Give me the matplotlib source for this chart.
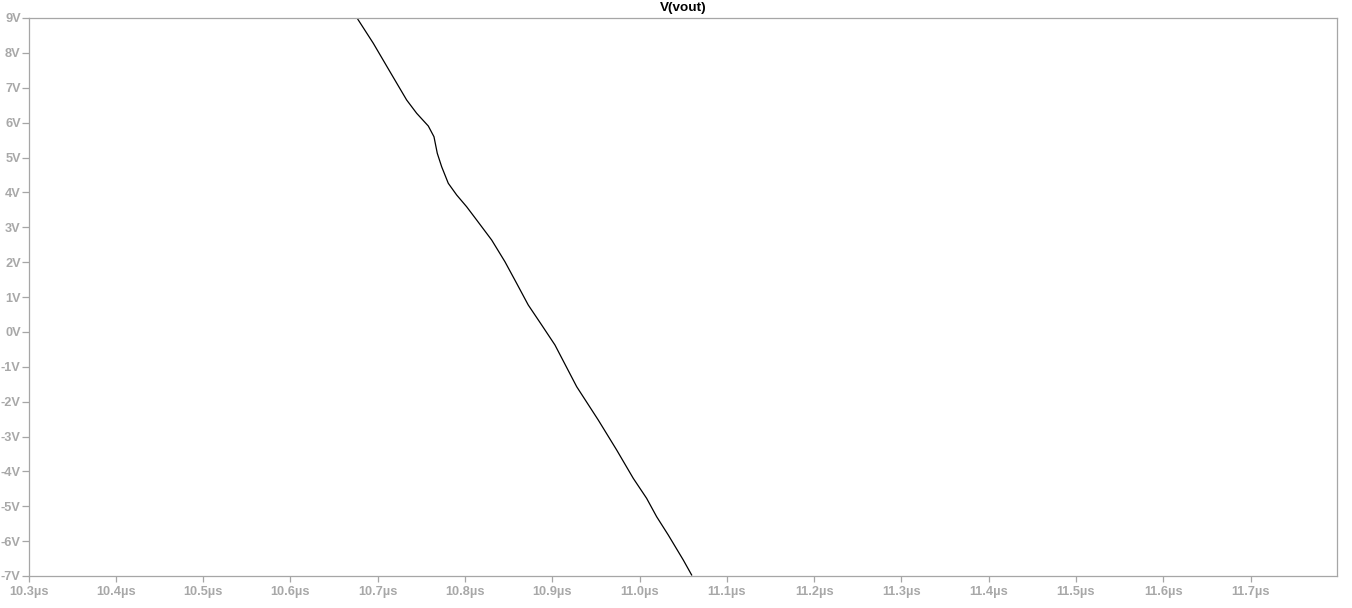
import matplotlib
matplotlib.use("Agg")
import matplotlib.pyplot as plt
import numpy as np

# time in microseconds, voltage in volts
time_us = [10.6766, 10.6950, 10.7141, 10.7332, 10.7447, 10.7580, 10.7645, 10.7683,
           10.7733, 10.7809, 10.7905, 10.8019, 10.8134, 10.8306, 10.8458, 10.8592,
           10.8725, 10.8879, 10.9031, 10.9280, 10.9527, 10.9738, 10.9928, 11.0081,
           11.0196, 11.0329, 11.0501, 11.0597]
vout = [8.99, 8.275, 7.46, 6.649, 6.267, 5.903, 5.596, 5.12,
        4.736, 4.26, 3.925, 3.589, 3.208, 2.634, 2.012, 1.393,
        0.771, 0.197, -0.376, -1.572, -2.527, -3.387, -4.199, -4.772,
        -5.30, -5.824, -6.541, -6.971]

x_ticks = [10.3, 10.4, 10.5, 10.6, 10.7, 10.8, 10.9, 11.0, 11.1, 11.2, 11.3, 11.4, 11.5, 11.6, 11.7]
x_labels = [f"{t:.1f}\u00b5s" for t in x_ticks]
y_ticks = list(range(-7, 10))
y_labels = [f"{v}V" for v in y_ticks]
title = "V(vout)"

W, H = 1352, 608
fig = plt.figure(figsize=(W / 100, H / 100), dpi=100)
ax = fig.add_axes([28.5 / W, 1 - 576 / H, (1337 - 28.5) / W, (576 - 18) / H])

ax.plot(time_us, vout, color="black", lw=0.9)
ax.set_xlim(10.3, 11.799)
ax.set_ylim(-7, 9)

grey = "#a6a6a6"
lab = "#a8a8a8"
ax.set_xticks(x_ticks)
ax.set_xticklabels(x_labels)
ax.set_yticks(y_ticks)
ax.set_yticklabels(y_labels)
for s in ax.spines.values():
    s.set_color(grey)
    s.set_linewidth(0.9)
ax.tick_params(axis="both", direction="out", width=0.9, color=grey,
               labelcolor=lab, labelsize=9.2)
ax.tick_params(axis="x", length=4.3, pad=3)
ax.tick_params(axis="y", length=5.3, pad=0.3)
for t in ax.get_xticklabels() + ax.get_yticklabels():
    t.set_fontfamily("Liberation Sans")
    t.set_fontweight("bold")

fig.text((28.5 + 1337) / 2 / W, 1 - 8.5 / H, title, ha="center", va="center",
         fontsize=9.7, fontweight="bold", family="Liberation Sans", color="black")

fig.savefig("out.png", dpi=100)
